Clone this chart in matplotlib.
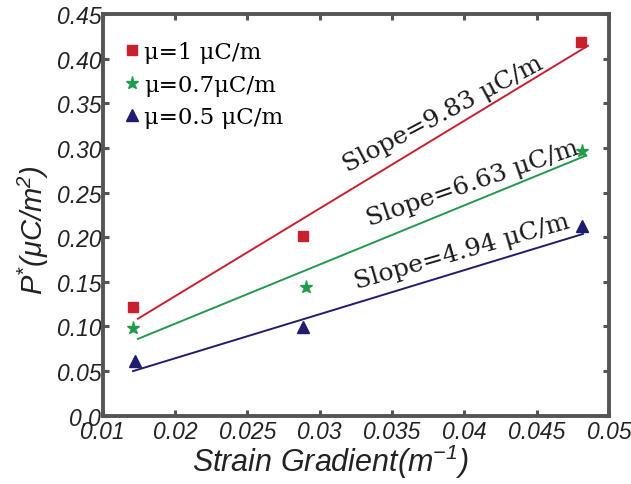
import numpy as np
import matplotlib.pyplot as plt

plt.rcParams['mathtext.fontset'] = 'custom'
plt.rcParams['mathtext.rm'] = 'Liberation Sans:italic'
plt.rcParams['mathtext.it'] = 'Liberation Sans:italic'

# measured polarization for the three flexo coefficients
labels = ['μ=1 μC/m', 'μ=0.7μC/m', 'μ=0.5 μC/m']
x_red = [0.01712, 0.02882, 0.04806]
y_red = [0.1214, 0.2010, 0.4183]
x_green = [0.0171, 0.02908, 0.04811]
y_green = [0.0982, 0.1445, 0.2962]
x_blue = [0.01723, 0.02884, 0.04811]
y_blue = [0.0616, 0.0990, 0.2122]

# linear fits: slope, x range, value at the middle of the range
slopes = [9.83, 6.63, 4.94]
fit_x0 = [0.01744, 0.01744, 0.0171]
fit_x1 = [0.04855, 0.04843, 0.0482]
fit_ymid = [0.2616, 0.1888, 0.1268]

xticks = [0.015, 0.02, 0.025, 0.03, 0.035, 0.04, 0.045, 0.05]
xticklabels = ['0.01', '0.02', '0.025', '0.03', '0.035', '0.04', '0.045', '0.05']
yticks = [0, 0.05, 0.10, 0.15, 0.20, 0.25, 0.30, 0.35, 0.40, 0.45]
yticklabels = ['0.0', '0.05', '0.10', '0.15', '0.20', '0.25', '0.30', '0.35', '0.40', '0.45']

colors = ['#c8202e', '#22994e', '#211d6e']
markers = ['s', '*', '^']
msizes = [6.5, 9.5, 8.5]

fig = plt.figure(figsize=(6.31, 4.85), dpi=100)
ax = fig.add_axes([0.1627, 0.1408, 0.8024, 0.8282])

xs = [x_red, x_green, x_blue]
ys = [y_red, y_green, y_blue]
for i in range(3):
    xm = (fit_x0[i] + fit_x1[i]) / 2
    xx = np.array([fit_x0[i], fit_x1[i]])
    ax.plot(xx, fit_ymid[i] + slopes[i] * (xx - xm), color=colors[i], lw=1.4)
for i in range(3):
    ax.plot(xs[i], ys[i], linestyle='none', marker=markers[i], ms=msizes[i],
            color=colors[i], label=labels[i])

# slope annotations along the fit lines
txt_pos = [(0.03196, 0.2730, 28), (0.03341, 0.2136, 19), (0.03258, 0.1430, 16)]
for i in range(3):
    tx, ty, rot = txt_pos[i]
    ax.text(tx, ty, 'Slope=%.2f μC/m' % slopes[i], family='DejaVu Serif', fontsize=18,
            rotation=rot, rotation_mode='anchor', ha='left', va='baseline',
            color='#1a1a1a')

ax.set_xlim(0.015, 0.05)
ax.set_ylim(0, 0.45)
ax.set_xticks(xticks)
ax.set_xticklabels(xticklabels)
ax.set_yticks(yticks)
ax.set_yticklabels(yticklabels)
for lab in ax.get_xticklabels() + ax.get_yticklabels():
    lab.set_family('Liberation Sans')
    lab.set_style('italic')
    lab.set_fontsize(16.5)
    lab.set_color('#222222')

for s in ax.spines.values():
    s.set_linewidth(2.8)
    s.set_color('#555555')
ax.tick_params(direction='in', length=4, width=2.2, color='#555555',
               top=True, right=True)
ax.tick_params(axis='y', pad=1)
ax.tick_params(axis='x', pad=3)

ax.set_xlabel('Strain Gradient(m$^{-1}$)', family='Liberation Sans', style='italic',
              fontsize=22, color='#222222')
ax.set_ylabel('P$^{*}$(μC/m$^{2}$)', family='Liberation Sans', style='italic',
              fontsize=21, color='#222222')
ax.xaxis.set_label_coords(0.449, -0.065, transform=ax.transAxes)
ax.yaxis.set_label_coords(-0.137, 0.465, transform=ax.transAxes)
ax.xaxis.label.set_verticalalignment('top')
ax.yaxis.label.set_verticalalignment('center')

leg = ax.legend(loc='upper left', bbox_to_anchor=(0.027, 0.955), frameon=False,
                prop={'family': 'DejaVu Serif', 'size': 16.5}, handlelength=0.6,
                handletextpad=0.2, labelspacing=0.45, borderaxespad=0)

fig.savefig('out.png', dpi=100)
